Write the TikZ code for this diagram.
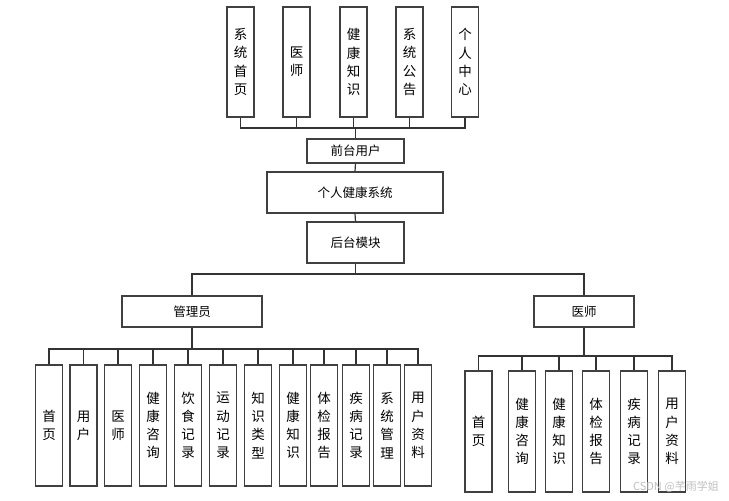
\documentclass[tikz,border=0pt]{standalone}
\usepackage{fontspec}
\setmainfont{Noto Sans CJK SC}
\begin{document}
\begin{tikzpicture}[x=1pt,y=-1pt,
  every node/.style={font=\fontsize{13.5}{18.2}\selectfont, inner sep=0pt},
  box/.style={draw=black!75, line width=1.2pt, fill=white, rectangle, align=center},
  vtop/.style={box, minimum width=27pt, minimum height=110pt},
  vsub/.style={box, minimum width=27pt, minimum height=121pt},
  conn/.style={draw=black!80, line width=1.2pt}]
\useasboundingbox (0,0) rectangle (729,501);
% top level
\node[vtop] (t1) at (240.5,62) {系\\统\\首\\页};
\node[vtop] (t2) at (296.5,62) {医\\师};
\node[vtop] (t3) at (353.5,62) {健\\康\\知\\识};
\node[vtop] (t4) at (409.5,62) {系\\统\\公\\告};
\node[vtop] (t5) at (465,62) {个\\人\\中\\心};
\node[box, minimum width=97pt, minimum height=24pt, font=\fontsize{12.5}{15}\selectfont] (fu) at (355.5,151) {前台用户};
\node[box, minimum width=176pt, minimum height=41pt, font=\fontsize{12.5}{15}\selectfont] (sys) at (355,192.5) {个人健康系统};
\node[box, minimum width=97pt, minimum height=41pt, font=\fontsize{12.5}{15}\selectfont] (back) at (355.5,242.5) {后台模块};
\node[box, minimum width=140pt, minimum height=31pt, font=\fontsize{12.5}{15}\selectfont] (adm) at (192,311.5) {管理员};
\node[box, minimum width=100pt, minimum height=31pt, font=\fontsize{12.5}{15}\selectfont] (doc) at (584,311.5) {医师};
% admin children
\node[vsub] (a1) at (49,425.5) {首\\页};
\node[vsub] (a2) at (83.5,425.5) {用\\户};
\node[vsub] (a3) at (118,425.5) {医\\师};
\node[vsub] (a4) at (153,425.5) {健\\康\\咨\\询};
\node[vsub] (a5) at (188,425.5) {饮\\食\\记\\录};
\node[vsub] (a6) at (223,425.5) {运\\动\\记\\录};
\node[vsub] (a7) at (258,425.5) {知\\识\\类\\型};
\node[vsub] (a8) at (293,425.5) {健\\康\\知\\识};
\node[vsub] (a9) at (324,425.5) {体\\检\\报\\告};
\node[vsub] (a10) at (356,425.5) {疾\\病\\记\\录};
\node[vsub] (a11) at (387,425.5) {系\\统\\管\\理};
\node[vsub] (a12) at (418,425.5) {用\\户\\资\\料};
% doctor children
\node[vsub] (d1) at (478.5,431.5) {首\\页};
\node[vsub] (d2) at (522,431.5) {健\\康\\咨\\询};
\node[vsub] (d3) at (559,431.5) {健\\康\\知\\识};
\node[vsub] (d4) at (596,431.5) {体\\检\\报\\告};
\node[vsub] (d5) at (634,431.5) {疾\\病\\记\\录};
\node[vsub] (d6) at (672,431.5) {用\\户\\资\\料};
% connectors
\coordinate (tb) at (355.5,128);
\foreach \n in {t1,t2,t3,t4,t5} \draw[conn] (\n.south) |- (tb);
\draw[conn] (tb) -- (fu.north);
\draw[conn] (fu.south) -- (sys.north);
\draw[conn] (sys.south) -- (back.north);
\coordinate (mb) at (355.5,274);
\draw[conn] (back.south) -- (mb);
\draw[conn] (adm.north) |- (mb);
\draw[conn] (doc.north) |- (mb);
\coordinate (ab) at (192,349);
\draw[conn] (adm.south) -- (ab);
\foreach \n in {a1,a2,a3,a4,a5,a6,a7,a8,a9,a10,a11,a12} \draw[conn] (\n.north) |- (ab);
\coordinate (db) at (584,356);
\draw[conn] (doc.south) -- (db);
\foreach \n in {d1,d2,d3,d4,d5,d6} \draw[conn] (\n.north) |- (db);
% watermark
\node[font=\fontsize{11}{13}\selectfont, text=black!25, anchor=east] (wm) at (719,487) {CSDN @芊雨学姐};
\end{tikzpicture}
\end{document}
